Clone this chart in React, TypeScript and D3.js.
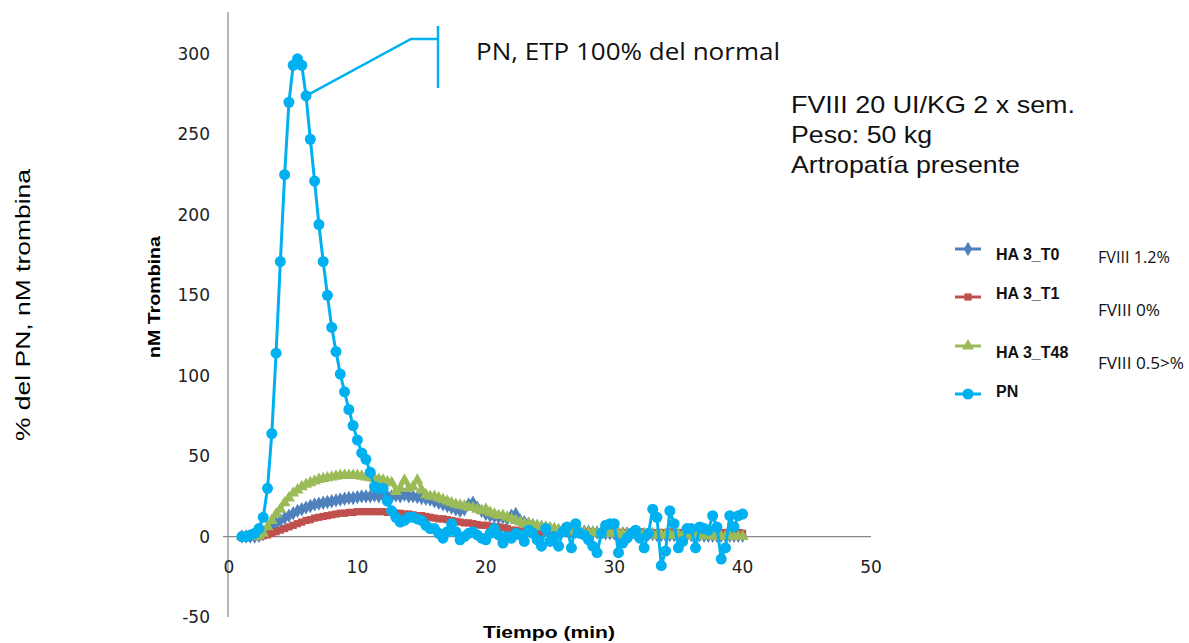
import React from "react";
import * as d3 from "d3";

// sampling grid: one reading every 20 s from minute 1 to minute 40
const timeStart = 1;
const timeStepMin = 1 / 3;

const pnValues = [
  0, 0, 1, 2, 5, 12, 30, 64, 114, 171,
  225, 270, 293, 297, 293, 274, 247, 221, 194, 171,
  150, 130, 115, 101, 90, 79, 69, 60, 52, 48,
  40, 31, 30, 30, 22, 16, 12, 9, 10, 12,
  12, 11, 10, 7, 5, 5, 2, -1, 3, 8,
  3, -2, 0, 2, 3, 1, -1, -2, 2, 5,
  1, -4, 0, -1, 2, 1, -3, 4, 2, -2,
  -6, 5, -3, 0, -6, 3, 6, -7, 8, 2,
  1, -2, -6, -10, 2, 7, 8, 8, -10, -4,
  -1, 2, 4, -1, -7, 2, 17, 12, -18, -9,
  16, 8, -7, -3, 5, 5, -7, 6, 5, 4,
  13, 6, -14, -7, 13, 6, 13, 14,
];

const t0Values = [
  0, 0, 0, 0, 0.5, 1.5, 4, 6, 8, 10,
  11.5, 13, 14.5, 16, 17, 18, 19, 20, 20.5, 21,
  21.5, 22, 22.5, 23, 23.5, 24, 24, 24.5, 25, 25,
  25, 25.5, 25, 25.5, 25, 25, 25.5, 25, 26, 25,
  25, 24.5, 24, 23.5, 23, 22, 21, 20, 19, 18,
  17, 16, 17, 20, 21, 18, 16, 14, 13, 12.5,
  12, 12, 11, 13, 14, 10, 9, 8, 7, 6,
  6, 5, 5, 4, 4, 4, 3.5, 3.5, 3, 3,
  3, 3, 2.5, 2.5, 2.5, 2, 2, 2, 2, 2,
  2, 1.5, 1.5, 1.5, 1.5, 1.5, 1.5, 1, 1, 1,
  1, 1, 1, 1, 1, 1, 1, 1, 0.5, 0.5,
  0.5, 0.5, 0.5, 0.5, 0.5, 0.5, 0.5, 0.5,
];

const t1Values = [
  0, 0, 0, 0, 0, 0.5, 1, 2, 3, 4,
  5, 6, 7, 8, 9, 10, 10.5, 11.5, 12, 12.5,
  13, 13.5, 14, 14.5, 14.5, 15, 15, 15.5, 15.5, 15.5,
  15.5, 15.5, 15.5, 15.5, 15, 15, 14.5, 14.5, 14, 14,
  13.5, 13, 13, 12.5, 12, 11.5, 11, 11, 10.5, 10,
  9.5, 9, 8.5, 8.5, 8, 7.5, 7, 7, 6.5, 6,
  6, 5.5, 5, 4, 4, 3.5, 3, 3, 3, 3,
  2.5, 3, 2.5, 2.5, 2.5, 2.5, 2.5, 2.5, 2.5, 2.5,
  2.5, 3, 2.5, 2.5, 2, 2.5, 3, 2.5, 2.5, 2.5,
  2.5, 2, 2.5, 3, 2.5, 2.5, 2.5, 2, 2.5, 2.5,
  3, 2.5, 2.5, 2.5, 2, 2.5, 2.5, 3, 2.5, 2.5,
  2.5, 2, 2.5, 2.5, 2.5, 2.5, 2.5, 2,
];

const t48Values = [
  0, 0, 0, 0, 0.5, 2, 6, 10, 14, 17,
  21, 24, 27, 29, 31, 32.5, 33.5, 34.5, 35.5, 36,
  36.5, 37, 37.5, 38, 38, 38, 38, 38, 37.5, 37,
  36.5, 36, 35.5, 35, 34, 33.5, 28, 30, 35, 30,
  31, 35, 29, 26, 25, 25, 24, 23, 22, 21,
  20, 19.5, 19, 18, 18, 17, 16, 17, 15, 14,
  13, 13, 12, 11, 10, 9, 8, 8, 7, 7,
  6, 6, 5, 5, 4, 4, 3.5, 3, 3, 3,
  2.5, 2.5, 2.5, 2, 2, 2, 2, 2, 2, 1.5,
  1.5, 1.5, 1.5, 1.5, 1.5, 1, 1, 1, 1, 1,
  1, 1, 1, 1, 0.5, 0.5, 0.5, 0.5, 0.5, 0.5,
  0.5, 0, 0, 0, 0, 0, 0, 0,
];

const seriesNames = ["HA 3_T0", "HA 3_T1", "HA 3_T48", "PN"];
const seriesNotes = ["FVIII 1.2%", "FVIII 0%", "FVIII 0.5>%"];
const xTicks = [0, 10, 20, 30, 40, 50];
const yTicks = [-50, 0, 50, 100, 150, 200, 250, 300];
const infoLines = ["FVIII 20 UI/KG 2 x sem.", "Peso: 50 kg", "Artropatía presente"];

const W = 1189;
const H = 643;

export default function App() {
  const x = d3.scaleLinear().domain([0, 50]).range([229, 871]);
  const y = d3.scaleLinear().domain([-50, 300]).range([617, 54]);

  const toPts = (vals: number[]) =>
    vals.map((v, i) => [timeStart + i * timeStepMin, v] as [number, number]);

  const line = d3
    .line<[number, number]>()
    .x((d) => x(d[0]))
    .y((d) => y(d[1]));

  const series = [
    { name: seriesNames[0], vals: t0Values, color: "#4F81BD", sym: d3.symbolDiamond, size: 60 },
    { name: seriesNames[1], vals: t1Values, color: "#C0504D", sym: d3.symbolSquare, size: 52 },
    { name: seriesNames[2], vals: t48Values, color: "#9BBB59", sym: d3.symbolTriangle, size: 62 },
  ];
  const pnColor = "#00B0F0";
  const pnPts = toPts(pnValues);

  // callout anchored at the PN point at t = 6 min (index 15)
  const anchor = pnPts[15];
  const ax = x(anchor[0]);
  const ay = y(anchor[1]);

  const legendY = [249, 297, 346, 394];
  const legendTextY = [254, 293, 352, 391];
  const noteY = [257, 310, 363];
  const infoLen = [284, 141, 229];
  const noteLen = [72, 62, 86];

  return (
    <svg
      width={W}
      height={H}
      style={{ position: "absolute", left: 0, top: 0, background: "#fff" }}
    >
      <rect x={0} y={0} width={W} height={H} fill="#fff" />
      {/* axes */}
      <line x1={x(0) - 1} x2={x(0) - 1} y1={12} y2={y(-50)} stroke="#888" strokeWidth={1.2} />
      <line x1={x(0) - 6} x2={x(50)} y1={y(0)} y2={y(0)} stroke="#888" strokeWidth={1.2} />
      {yTicks.map((t) => (
        <text
          key={"y" + t}
          x={210}
          y={y(t) + 6}
          textAnchor="end"
          fontFamily="DejaVu Sans"
          fontSize={17}
          fill="#222"
        >
          {t}
        </text>
      ))}
      {xTicks.map((t) => (
        <text
          key={"x" + t}
          x={x(t)}
          y={573}
          textAnchor="middle"
          fontFamily="DejaVu Sans"
          fontSize={17}
          fill="#222"
        >
          {t}
        </text>
      ))}
      <text
        transform="translate(160,297) rotate(-90)"
        textAnchor="middle"
        fontFamily="Liberation Sans"
        fontWeight="bold"
        fontSize={17}
        textLength={122}
        lengthAdjust="spacingAndGlyphs"
      >
        nM Trombina
      </text>
      <text
        x={549}
        y={638}
        textAnchor="middle"
        fontFamily="Liberation Sans"
        fontWeight="bold"
        fontSize={17}
        textLength={132}
        lengthAdjust="spacingAndGlyphs"
      >
        Tiempo (min)
      </text>
      <text
        transform="translate(30,305) rotate(-90)"
        textAnchor="middle"
        fontFamily="Liberation Sans"
        fontSize={21}
        textLength={272}
        lengthAdjust="spacingAndGlyphs"
      >
        % del PN, nM trombina
      </text>

      {/* HA series */}
      {series.map((s) => {
        const pts = toPts(s.vals);
        const sym = d3.symbol().type(s.sym).size(s.size)();
        return (
          <g key={s.name}>
            <path d={line(pts) || ""} fill="none" stroke={s.color} strokeWidth={3} />
            {pts.map((p, i) => (
              <path
                key={i}
                d={sym || ""}
                transform={`translate(${x(p[0])},${y(p[1])})`}
                fill={s.color}
              />
            ))}
          </g>
        );
      })}

      {/* PN series */}
      <path d={line(pnPts) || ""} fill="none" stroke={pnColor} strokeWidth={3} />
      {pnPts.map((p, i) => (
        <circle key={i} cx={x(p[0])} cy={y(p[1])} r={5.5} fill={pnColor} />
      ))}

      {/* callout */}
      <polyline
        points={`${ax},${ay} 411,39 438,39`}
        fill="none"
        stroke={pnColor}
        strokeWidth={2.5}
      />
      <line x1={438} x2={438} y1={26} y2={88} stroke={pnColor} strokeWidth={2.5} />
      <text
        x={476}
        y={60}
        fontFamily="Open Sans"
        fontSize={23}
        fill="#111"
        textLength={304}
        lengthAdjust="spacingAndGlyphs"
      >
        PN, ETP 100% del normal
      </text>

      {infoLines.map((t, i) => (
        <text
          key={t}
          x={791}
          y={113 + i * 30}
          fontFamily="Liberation Sans"
          fontSize={24}
          fill="#111"
          textLength={infoLen[i]}
          lengthAdjust="spacingAndGlyphs"
        >
          {t}
        </text>
      ))}

      {/* legend */}
      {seriesNames.map((n, i) => {
        const color = i < 3 ? series[i].color : pnColor;
        const sym = i < 3 ? d3.symbol().type(series[i].sym).size(series[i].size)() : null;
        return (
          <g key={n}>
            <line x1={955} x2={981} y1={legendY[i]} y2={legendY[i]} stroke={color} strokeWidth={3} />
            {sym ? (
              <path d={sym} transform={`translate(968,${legendY[i]})`} fill={color} />
            ) : (
              <circle cx={968} cy={legendY[i]} r={5.5} fill={color} />
            )}
            <text
              x={996}
              y={legendTextY[i] + 6}
              fontFamily="Liberation Sans"
              fontWeight="bold"
              fontSize={16}
              fill="#111"
            >
              {n}
            </text>
          </g>
        );
      })}
      {seriesNotes.map((n, i) => (
        <text
          key={n}
          x={1098}
          y={noteY[i] + 6}
          fontFamily="Open Sans"
          fontSize={16}
          fill="#111"
          textLength={noteLen[i]}
          lengthAdjust="spacingAndGlyphs"
        >
          {n}
        </text>
      ))}
    </svg>
  );
}
